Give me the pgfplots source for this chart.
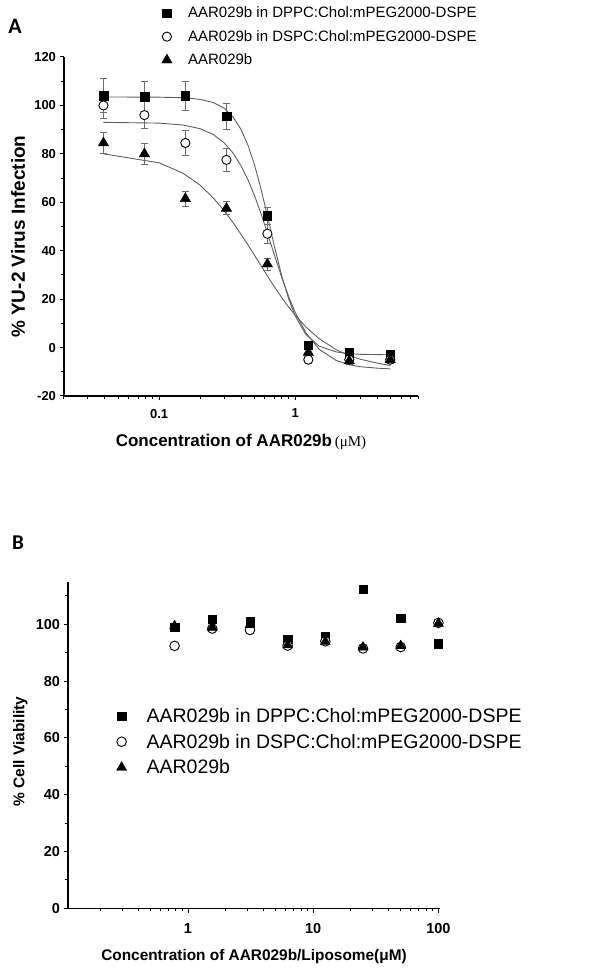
\documentclass[border=0pt]{standalone}
\usepackage{pgfplots}
\pgfplotsset{compat=1.18}
\usepackage{fontspec}
\setmainfont{Liberation Sans}
\newfontfamily\serifA{Liberation Serif}
\newfontfamily\letterfont{Carlito}
\definecolor{curvegray}{RGB}{95,95,95}
\definecolor{errgray}{RGB}{110,110,110}

\begin{document}
\begin{tikzpicture}
\path[use as bounding box] (0pt,0pt) rectangle (608pt,975pt);

\node[font=\letterfont\bfseries\fontsize{22}{22}\selectfont] at (15pt,949pt) {A};
\node[font=\letterfont\bfseries\fontsize{21}{21}\selectfont] at (18pt,432pt) {B};

% ---------------- Panel A ----------------
\begin{axis}[
  scale only axis, anchor=south west,
  xmode=log,
  axis x line*=bottom, axis y line*=left,
  axis line style={line width=1.2pt},
  tick align=outside, major tick length=4.5pt, minor tick length=3pt,
  tick style={line width=1pt, black},
  /pgf/number format/assume math mode=true,
  clip=false,
  at={(64pt,579pt)}, width=354pt, height=339pt,
  xmin=0.02, xmax=8, ymin=-20, ymax=120,
  xtick={0.1,1}, xticklabels={0.1,1},
  minor xtick={0.02,0.03,0.04,0.05,0.06,0.07,0.08,0.09,0.2,0.3,0.4,0.5,0.6,0.7,0.8,0.9,2,3,4,5,6,7,8},
  ytick={-20,0,20,40,60,80,100,120},
  minor ytick={-10,10,30,50,70,90,110},
  tick label style={font=\bfseries\fontsize{13}{13}\selectfont},
  xticklabel style={yshift=-5pt},
  xlabel={{\bfseries\fontsize{17}{17}\selectfont Concentration of AAR029b} {\serifA\fontsize{15}{15}\selectfont (μM)}},
  ylabel={\bfseries\fontsize{19}{19}\selectfont \% YU-2 Virus Infection},
  xlabel style={at={(axis description cs:0.5,-0.135)}, anchor=center},
  ylabel style={at={(axis description cs:-0.130,0.47)}, anchor=center},
  legend style={at={(axis description cs:0.267,1.06)}, anchor=west, draw=none, fill=none,
     font=\fontsize{15}{15}\selectfont, row sep=7pt,
     /tikz/every odd column/.append style={column sep=14pt}},
  legend cell align=left,
]
\addplot[no marks, curvegray, line width=0.9pt, forget plot] coordinates {
(0.039,103.5)(0.1,103.4)(0.15,103.2)(0.2,102.5)(0.25,101.2)(0.3,98.9)(0.35,95.2)(0.4,90.1)(0.45,83.6)(0.5,75.9)(0.55,67.4)(0.6,58.7)(0.65,50.3)(0.7,42.4)(0.8,29.3)(0.9,19.8)(1.0,13.1)(1.2,5.4)(1.5,0.6)(2,-1.8)(2.5,-2.5)(3,-2.8)(4,-2.9)(5,-3.0)};
\addplot[no marks, curvegray, line width=0.9pt, forget plot] coordinates {
(0.039,93.0)(0.1,92.7)(0.15,91.9)(0.2,90.4)(0.25,88.0)(0.3,84.6)(0.35,80.3)(0.4,75.1)(0.45,69.3)(0.5,63.1)(0.55,56.7)(0.6,50.4)(0.65,44.3)(0.7,38.7)(0.8,28.7)(0.9,20.8)(1.0,14.6)(1.2,6.1)(1.5,-0.7)(2,-5.3)(2.5,-7.1)(3,-7.9)(4,-8.5)(5,-8.8)};
\addplot[no marks, curvegray, line width=0.9pt, forget plot] coordinates {
(0.039,80.0)(0.1,76.3)(0.15,72.0)(0.2,67.1)(0.25,61.8)(0.3,56.6)(0.35,51.6)(0.4,46.8)(0.45,42.4)(0.5,38.3)(0.55,34.6)(0.6,31.2)(0.65,28.1)(0.7,25.3)(0.8,20.5)(0.9,16.6)(1.0,13.4)(1.2,8.5)(1.5,3.7)(2,-0.9)(2.5,-3.3)(3,-4.8)(4,-6.4)(5,-7.4)};

\addplot[only marks, mark=square*, mark size=4.3pt, mark options={fill=black, draw=black},
  error bars/.cd, y dir=both, y explicit,
  error bar style={errgray, line width=0.8pt},
  error mark options={rotate=90, mark size=3.5pt, errgray, line width=0.8pt}] coordinates {
(0.039,104) +- (0,7)
(0.078,103.5) +- (0,6.5)
(0.156,104) +- (0,6)
(0.3125,95.5) +- (0,5.5)
(0.625,54.5) +- (0,3.5)
(1.25,1) +- (0,1.5)
(2.5,-2) +- (0,1)
(5,-3) +- (0,1)};
\addlegendentry{AAR029b in DPPC:Chol:mPEG2000-DSPE}
\addplot[only marks, mark=*, mark size=4.6pt, mark options={fill=white, draw=black, line width=0.9pt},
  error bars/.cd, y dir=both, y explicit,
  error bar style={errgray, line width=0.8pt},
  error mark options={rotate=90, mark size=3.5pt, errgray, line width=0.8pt}] coordinates {
(0.039,100) +- (0,5.5)
(0.078,96) +- (0,5.5)
(0.156,84.5) +- (0,5)
(0.3125,77.5) +- (0,4.7)
(0.625,47) +- (0,4)
(1.25,-5) +- (0,1.5)
(2.5,-5) +- (0,1)
(5,-5) +- (0,1)};
\addlegendentry{AAR029b in DSPC:Chol:mPEG2000-DSPE}
\addplot[only marks, mark=triangle*, mark size=6pt, mark options={fill=black, draw=black},
  error bars/.cd, y dir=both, y explicit,
  error bar style={errgray, line width=0.8pt},
  error mark options={rotate=90, mark size=3.5pt, errgray, line width=0.8pt}] coordinates {
(0.039,84.5) +- (0,4.3)
(0.078,80) +- (0,4.2)
(0.156,61.5) +- (0,3)
(0.3125,57.5) +- (0,2.7)
(0.625,34.5) +- (0,2.5)
(1.25,-2) +- (0,1.5)
(2.5,-5.5) +- (0,1.5)
(5,-5) +- (0,1.5)};
\addlegendentry{AAR029b}
\end{axis}

% ---------------- Panel B ----------------
\begin{axis}[
  scale only axis, anchor=south west,
  xmode=log,
  axis x line*=bottom, axis y line*=left,
  axis line style={line width=1.2pt},
  tick align=outside, major tick length=4.5pt, minor tick length=3pt,
  tick style={line width=1pt, black},
  /pgf/number format/assume math mode=true,
  clip=false,
  at={(68pt,66.7pt)}, width=372pt, height=326.6pt,
  xmin=0.11, xmax=103, ymin=0, ymax=115,
  xtick={1,10,100}, xticklabels={1,10,100},
  minor xtick={0.2,0.3,0.4,0.5,0.6,0.7,0.8,0.9,2,3,4,5,6,7,8,9,20,30,40,50,60,70,80,90},
  ytick={0,20,40,60,80,100},
  minor ytick={10,30,50,70,90,110},
  tick label style={font=\bfseries\fontsize{14.5}{14.5}\selectfont},
  xticklabel style={yshift=-7pt},
  xlabel={\bfseries\fontsize{15.4}{15.4}\selectfont Concentration of AAR029b/Liposome(μM)},
  ylabel={\bfseries\fontsize{15.5}{15.5}\selectfont \% Cell Viability},
  xlabel style={at={(axis description cs:0.5,-0.148)}, anchor=center},
  ylabel style={at={(axis description cs:-0.128,0.48)}, anchor=center},
  legend style={at={(axis description cs:0.122,0.51)}, anchor=west, draw=none, fill=none,
     font=\fontsize{19.5}{19.5}\selectfont, row sep=6pt,
     /tikz/every odd column/.append style={column sep=18pt}},
  legend cell align=left,
]
\addplot[only marks, mark=square*, mark size=4.2pt, mark options={fill=black, draw=black}] coordinates {
(0.78125,99)(1.5625,101.8)(3.125,100.9)(6.25,94.8)(12.5,95.6)(25,112.3)(50,102.1)(100,93.1)};
\addlegendentry{AAR029b in DPPC:Chol:mPEG2000-DSPE}
\addplot[only marks, mark=*, mark size=4.8pt, mark options={fill=white, draw=black, line width=0.9pt}] coordinates {
(0.78125,92.4)(1.5625,98.5)(3.125,98.0)(6.25,92.5)(12.5,94)(25,91.5)(50,92)(100,100.5)};
\addlegendentry{AAR029b in DSPC:Chol:mPEG2000-DSPE}
\addplot[only marks, mark=triangle*, mark size=5.8pt, mark options={fill=black, draw=black}] coordinates {
(0.78125,99.4)(1.5625,98.9)(3.125,99.8)(6.25,92.7)(12.5,93.9)(25,91.9)(50,92.4)(100,100.3)};
\addlegendentry{AAR029b}
\end{axis}
\end{tikzpicture}
\end{document}
